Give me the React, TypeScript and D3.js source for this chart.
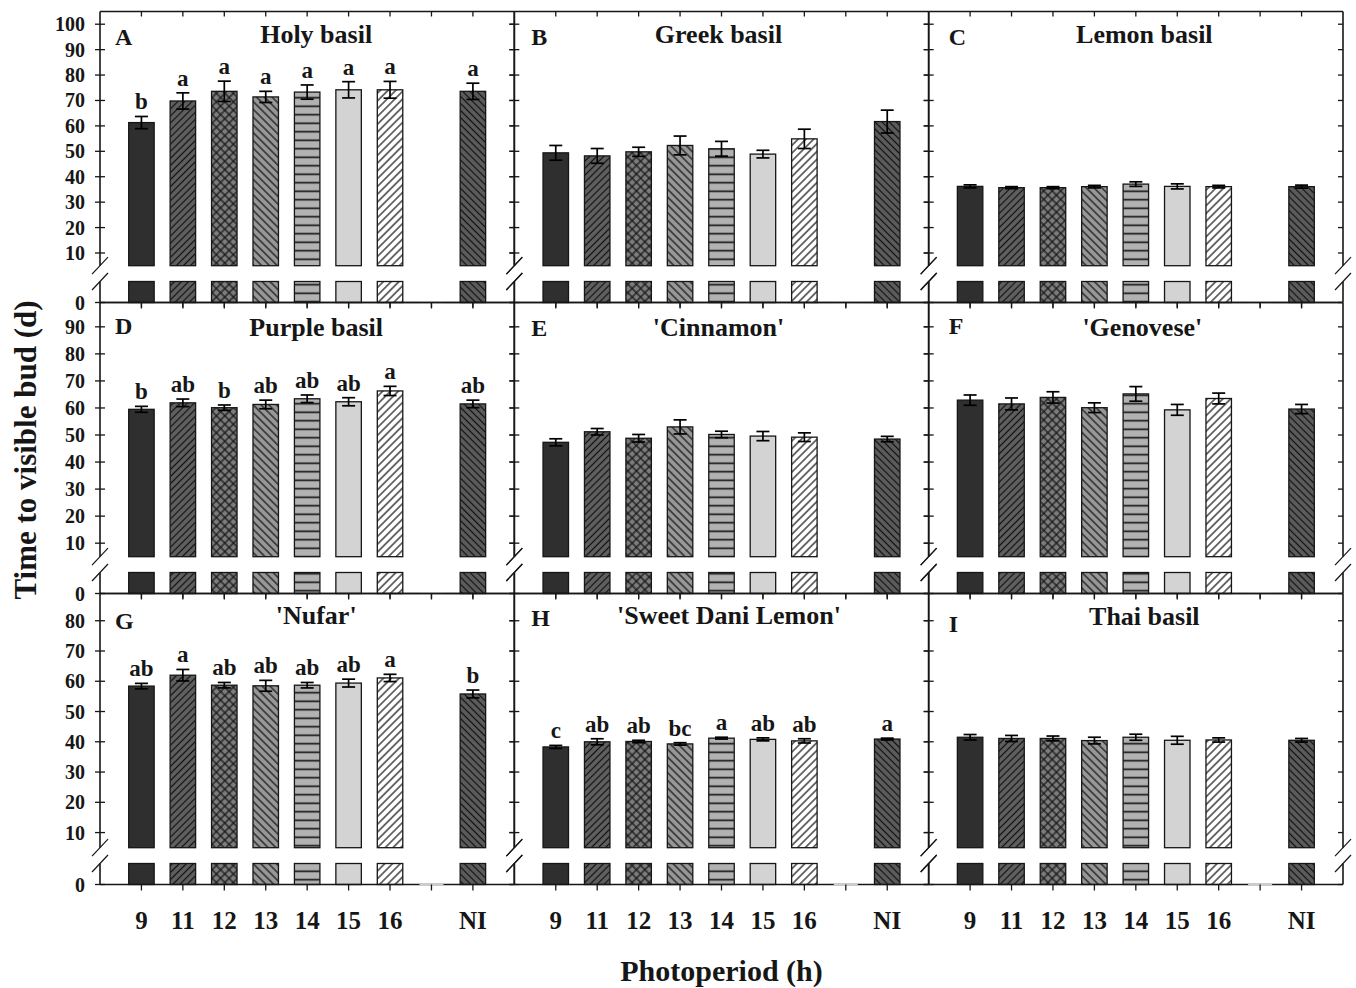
import { useEffect, useRef } from "react";
import * as d3 from "d3";

// x categories (photoperiod, h); "gap" is the empty slot before NI
const photoperiods = ["9", "11", "12", "13", "14", "15", "16", "NI"];
const slots = ["9", "11", "12", "13", "14", "15", "16", "gap", "NI"];

const panelLetters = ["A", "B", "C", "D", "E", "F", "G", "H", "I"];
const cultivars = [
  "Holy basil",
  "Greek basil",
  "Lemon basil",
  "Purple basil",
  "'Cinnamon'",
  "'Genovese'",
  "'Nufar'",
  "'Sweet Dani Lemon'",
  "Thai basil",
];

// time to visible bud (d), mean and SE, order = photoperiods
const holyMean = [61.3, 69.8, 73.6, 71.4, 73.3, 74.2, 74.2, 73.6];
const holySE = [2.4, 3.2, 4.0, 2.2, 2.8, 3.2, 3.3, 3.2];
const holySig = ["b", "a", "a", "a", "a", "a", "a", "a"];

const greekMean = [49.4, 48.2, 49.8, 52.3, 51.0, 48.9, 54.9, 61.7];
const greekSE = [2.9, 2.9, 1.8, 3.7, 2.9, 1.5, 3.8, 4.5];

const lemonMean = [36.2, 35.7, 35.7, 36.1, 37.1, 36.2, 36.1, 36.1];
const lemonSE = [0.6, 0.4, 0.4, 0.5, 0.9, 1.0, 0.5, 0.6];

const purpleMean = [59.5, 61.9, 60.1, 61.3, 63.4, 62.3, 66.3, 61.5];
const purpleSE = [1.1, 1.4, 1.0, 1.6, 1.4, 1.5, 1.7, 1.4];
const purpleSig = ["b", "ab", "b", "ab", "ab", "ab", "a", "ab"];

const cinnamonMean = [47.3, 51.2, 48.8, 53.0, 50.2, 49.6, 49.2, 48.5];
const cinnamonSE = [1.3, 1.2, 1.4, 2.6, 1.2, 1.7, 1.6, 1.0];

const genoveseMean = [62.9, 61.5, 63.9, 60.1, 65.2, 59.3, 63.5, 59.6];
const genoveseSE = [1.9, 2.2, 2.1, 1.8, 2.7, 2.0, 2.0, 1.7];

const nufarMean = [58.4, 62.0, 58.7, 58.5, 58.7, 59.4, 61.1, 55.8];
const nufarSE = [0.9, 1.9, 0.9, 1.8, 0.9, 1.3, 1.2, 1.3];
const nufarSig = ["ab", "a", "ab", "ab", "ab", "ab", "a", "b"];

const sweetDaniMean = [38.3, 40.0, 40.1, 39.3, 41.2, 40.8, 40.3, 40.9];
const sweetDaniSE = [0.5, 1.0, 0.4, 0.4, 0.3, 0.5, 0.7, 0.3];
const sweetDaniSig = ["c", "ab", "ab", "bc", "a", "ab", "ab", "a"];

const thaiMean = [41.5, 41.1, 41.1, 40.4, 41.5, 40.5, 40.6, 40.5];
const thaiSE = [0.9, 1.0, 0.8, 1.1, 1.0, 1.3, 0.7, 0.6];

// y tick values per row
const yTicksRow1 = [0, 10, 20, 30, 40, 50, 60, 70, 80, 90, 100];
const yTicksRow2 = [0, 10, 20, 30, 40, 50, 60, 70, 80, 90];
const yTicksRow3 = [0, 10, 20, 30, 40, 50, 60, 70, 80];

const panels = [
  { mean: holyMean, se: holySE, sig: holySig },
  { mean: greekMean, se: greekSE, sig: null },
  { mean: lemonMean, se: lemonSE, sig: null },
  { mean: purpleMean, se: purpleSE, sig: purpleSig },
  { mean: cinnamonMean, se: cinnamonSE, sig: null },
  { mean: genoveseMean, se: genoveseSE, sig: null },
  { mean: nufarMean, se: nufarSE, sig: nufarSig },
  { mean: sweetDaniMean, se: sweetDaniSE, sig: sweetDaniSig },
  { mean: thaiMean, se: thaiSE, sig: null },
];
const rowTicks = [yTicksRow1, yTicksRow2, yTicksRow3];
const rowMax = [105, 99, 89];
const breakValue = 5;

// bar fills, one per photoperiod
const fills = [
  { id: "f9", bg: "#2f2f2f", kind: "none", gap: 0 },
  { id: "f11", bg: "#606060", kind: "diag", angle: -45, gap: 5 },
  { id: "f12", bg: "#7c7c7c", kind: "cross", angle: 45, gap: 6 },
  { id: "f13", bg: "#979797", kind: "diag", angle: 45, gap: 5.5 },
  { id: "f14", bg: "#b2b2b2", kind: "horiz", angle: 0, gap: 8.5 },
  { id: "f15", bg: "#d3d3d3", kind: "none", gap: 0 },
  { id: "f16", bg: "#ffffff", kind: "diag", angle: -45, gap: 5.5 },
  { id: "fNI", bg: "#5c5c5c", kind: "diag", angle: 45, gap: 5 },
];

// small hand-tuned text placement per panel
const titleShift = [9, -3, 8.5, 9, -3, 6.5, 9, 7.5, 8.5];
const titleDy = [31, 31, 31, 33, 33, 33, 30, 30, 31.5];
const letterDy = [33.5, 33, 33, 31.5, 33, 31.5, 35.5, 32, 38];
const letterDx = [15, 17, 20];

const W = 1356;
const H = 988;
const plotLeft = 100;
const plotRight = 1343;
const plotTop = 11.5;
const rowH = 291;
const FONT = "'Liberation Serif', 'Times New Roman', serif";
const INK = "#161616";

export default function App() {
  const ref = useRef<SVGSVGElement>(null);

  useEffect(() => {
    const svg = d3.select(ref.current);
    svg.selectAll("*").remove();

    svg.append("rect").attr("width", W).attr("height", H).attr("fill", "#fff");

    // patterns
    const defs = svg.append("defs");
    fills.forEach((f) => {
      if (f.kind === "none") return;
      const g = f.gap;
      const p = defs
        .append("pattern")
        .attr("id", f.id)
        .attr("patternUnits", "userSpaceOnUse")
        .attr("width", g)
        .attr("height", g)
        .attr("patternTransform", `rotate(${f.angle})`);
      p.append("rect").attr("width", g).attr("height", g).attr("fill", f.bg);
      p.append("line")
        .attr("x1", 0)
        .attr("x2", g)
        .attr("y1", g / 2)
        .attr("y2", g / 2)
        .attr("stroke", "#111")
        .attr("stroke-width", f.kind === "horiz" ? 1.6 : 1.2);
      if (f.kind === "cross") {
        p.append("line")
          .attr("x1", g / 2)
          .attr("x2", g / 2)
          .attr("y1", 0)
          .attr("y2", g)
          .attr("stroke", "#111")
          .attr("stroke-width", 1.2);
      }
    });
    const fillOf = (i: number) =>
      fills[i].kind === "none" ? fills[i].bg : `url(#${fills[i].id})`;

    const colW = (plotRight - plotLeft) / 3;

    panels.forEach((p, pi) => {
      const row = Math.floor(pi / 3);
      const col = pi % 3;
      const x0 = plotLeft + col * colW;
      const x1 = x0 + colW;
      const top = plotTop + row * rowH;
      const bottom = top + rowH;
      const step = colW / 10;

      const x = d3.scalePoint<string>().domain(slots).range([x0 + step, x1 - step]);
      const yUp = d3
        .scaleLinear()
        .domain([breakValue, rowMax[row]])
        .range([bottom - 36.8, top]);
      const yLow = d3
        .scaleLinear()
        .domain([0, breakValue])
        .range([bottom, bottom - 21]);
      const bw = step * 0.615;

      const g = svg.append("g");

      const data = photoperiods.map((k, i) => ({
        key: k,
        i,
        mean: p.mean[i],
        se: p.se[i],
        sig: p.sig ? p.sig[i] : "",
      }));

      // upper bars
      g.selectAll("rect.up")
        .data(data)
        .enter()
        .append("rect")
        .attr("class", "up")
        .attr("x", (d) => x(d.key)! - bw / 2)
        .attr("y", (d) => yUp(d.mean))
        .attr("width", bw)
        .attr("height", (d) => yUp(breakValue) - yUp(d.mean))
        .attr("fill", (d) => fillOf(d.i))
        .attr("stroke", INK)
        .attr("stroke-width", 1.3);

      // lower bars (below the axis break)
      g.selectAll("rect.low")
        .data(data)
        .enter()
        .append("rect")
        .attr("class", "low")
        .attr("x", (d) => x(d.key)! - bw / 2)
        .attr("y", yLow(breakValue))
        .attr("width", bw)
        .attr("height", yLow(0) - yLow(breakValue))
        .attr("fill", (d) => fillOf(d.i))
        .attr("stroke", INK)
        .attr("stroke-width", 1.3);

      // error bars
      const eb = g
        .selectAll("g.err")
        .data(data)
        .enter()
        .append("g")
        .attr("stroke", "#000")
        .attr("stroke-width", 1.7);
      eb.append("line")
        .attr("x1", (d) => x(d.key)!)
        .attr("x2", (d) => x(d.key)!)
        .attr("y1", (d) => yUp(d.mean - d.se))
        .attr("y2", (d) => yUp(d.mean + d.se));
      [1, -1].forEach((s) => {
        eb.append("line")
          .attr("x1", (d) => x(d.key)! - 6.5)
          .attr("x2", (d) => x(d.key)! + 6.5)
          .attr("y1", (d) => yUp(d.mean + s * d.se))
          .attr("y2", (d) => yUp(d.mean + s * d.se));
      });

      // significance letters
      if (p.sig) {
        g.selectAll("text.sig")
          .data(data)
          .enter()
          .append("text")
          .attr("x", (d) => x(d.key)!)
          .attr("y", (d) => yUp(d.mean + d.se) - 7)
          .attr("text-anchor", "middle")
          .attr("font-family", FONT)
          .attr("font-weight", "bold")
          .attr("font-size", 23)
          .attr("fill", INK)
          .text((d) => d.sig);
      }

      // frame
      const line = (ax: number, ay: number, bx: number, by: number, w = 1.6, c = INK) =>
        g.append("line")
          .attr("x1", ax)
          .attr("y1", ay)
          .attr("x2", bx)
          .attr("y2", by)
          .attr("stroke", c)
          .attr("stroke-width", w);

      line(x0, top, x1, top);
      line(x0, bottom, x1, bottom);
      // faint notch in the axis at the empty slot
      line(x("gap")! - 12, bottom, x("gap")! + 12, bottom, 2, "#cfcfcf");

      const yb1 = yUp(breakValue);
      const yb2 = yLow(breakValue);
      [x0, x1].forEach((vx) => {
        line(vx, top, vx, yb1);
        line(vx, yb2, vx, bottom);
        line(vx - 8, yb1 + 8.5, vx + 8, yb1 - 8.5, 1.2);
        line(vx - 8, yb2 + 8.5, vx + 8, yb2 - 8.5, 1.2);
      });

      // y ticks
      const ticks = rowTicks[row];
      ticks.forEach((t) => {
        const ty = t === 0 ? yLow(0) : yUp(t);
        line(x0 - 5, ty, x0 + 5, ty, 1.3);
        line(x1 - 5, ty, x1, ty, 1.3);
      });
      if (col === 0) {
        g.selectAll("text.yt")
          .data(ticks)
          .enter()
          .append("text")
          .attr("x", x0 - 15)
          .attr("y", (t) => (t === 0 ? yLow(0) : yUp(t)))
          .attr("dy", "0.35em")
          .attr("text-anchor", "end")
          .attr("font-family", FONT)
          .attr("font-weight", "bold")
          .attr("font-size", 20)
          .attr("fill", INK)
          .text((t) => String(t));
      }

      // x ticks
      slots.forEach((s) => {
        line(x(s)!, top, x(s)!, top + 5, 1.3);
        line(x(s)!, bottom, x(s)!, bottom + 6, 1.3);
      });
      if (row === 2) {
        g.selectAll("text.xt")
          .data(photoperiods)
          .enter()
          .append("text")
          .attr("x", (k) => x(k)!)
          .attr("y", bottom + 44)
          .attr("text-anchor", "middle")
          .attr("font-family", FONT)
          .attr("font-weight", "bold")
          .attr("font-size", 25)
          .attr("fill", INK)
          .text((k) => k);
      }

      // panel letter and title
      g.append("text")
        .attr("x", x0 + letterDx[col])
        .attr("y", top + letterDy[pi])
        .attr("font-family", FONT)
        .attr("font-weight", "bold")
        .attr("font-size", 24)
        .attr("fill", INK)
        .text(panelLetters[pi]);
      g.append("text")
        .attr("x", (x0 + x1) / 2 + titleShift[pi])
        .attr("y", top + titleDy[pi])
        .attr("text-anchor", "middle")
        .attr("font-family", FONT)
        .attr("font-weight", "bold")
        .attr("font-size", 26)
        .attr("fill", INK)
        .text(cultivars[pi]);
    });

    // axis titles
    svg.append("text")
      .attr("transform", `translate(36, ${plotTop + (3 * rowH) / 2 + 2}) rotate(-90)`)
      .attr("text-anchor", "middle")
      .attr("font-family", FONT)
      .attr("font-weight", "bold")
      .attr("font-size", 31)
      .attr("fill", INK)
      .text("Time to visible bud (d)");

    svg.append("text")
      .attr("x", plotLeft + (plotRight - plotLeft) / 2)
      .attr("y", 981)
      .attr("text-anchor", "middle")
      .attr("font-family", FONT)
      .attr("font-weight", "bold")
      .attr("font-size", 30)
      .attr("fill", INK)
      .text("Photoperiod (h)");
  }, []);

  return (
    <svg
      ref={ref}
      width={W}
      height={H}
      style={{ position: "absolute", left: 0, top: 0 }}
    />
  );
}
